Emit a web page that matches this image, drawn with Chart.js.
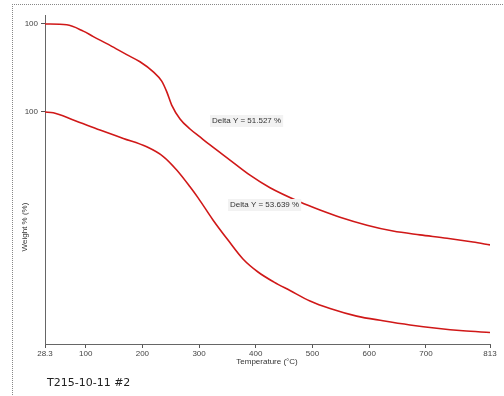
<!DOCTYPE html>
<html>
<head>
<meta charset="utf-8">
<script src="https://cdn.jsdelivr.net/npm/chart.js@4"></script>
<style>
  html, body { margin: 0; padding: 0; background: #fff; }
  #wrap { position: relative; width: 504px; height: 396px; }
  #frame { position: absolute; left: 12px; top: 4px; width: 500px; height: 400px;
           border-left: 1px dotted #888; border-top: 1px dotted #888; }
  canvas { position: absolute; left: 0; top: 0; }
</style>
</head>
<body>
<div id="wrap">
  <div id="frame"></div>
  <canvas id="tga" width="504" height="396"></canvas>
</div>
<script>
// temperature (°C) and weight (%)
const tempA = [28.3, 66.6, 95.8, 113.5, 143, 172.4, 195.8, 219.3, 234.1, 242.9, 251.7, 266.4, 284, 301.6, 319.3, 354.5, 389.8, 425.1, 478, 513.2, 548.5, 596.1, 641.9, 689.5, 737.2, 783, 813];
const weightA = [100, 99.8, 98.3, 97.0, 94.9, 92.7, 91.0, 88.6, 86.4, 83.9, 80.7, 77.4, 75.0, 73.1, 71.2, 67.6, 64.0, 61.0, 57.6, 55.7, 54.0, 52.1, 50.7, 49.8, 49.0, 48.1, 47.4];
const tempB = [28.3, 42.9, 78.2, 125.3, 166.4, 207.6, 236.9, 260.5, 284, 298.6, 324.5, 351.0, 377.4, 403.9, 432.1, 460.3, 495.6, 530.9, 577.9, 624.3, 671.9, 719, 765.4, 813];
const weightB = [100, 99.8, 98.1, 95.7, 93.7, 91.7, 89.4, 86.2, 82.2, 79.5, 74.3, 69.5, 65.0, 61.9, 59.5, 57.5, 55.0, 53.2, 51.4, 50.3, 49.3, 48.5, 47.9, 47.5];
const offsetB = 20.95; // second curve is shifted down on the plot
const xTicks = [28.3, 100, 200, 300, 400, 500, 600, 700, 813];
const yTicks = [100, 100 - offsetB];
const deltaLabels = ["Delta Y = 51.527 %", "Delta Y = 53.639 %"];

const red = "#d01818";
const tickFont = { family: "Liberation Sans", size: 8 };

function toPoints(xs, ys, off) {
  return xs.map((x, i) => ({ x: x, y: ys[i] - off }));
}

const extras = {
  id: "extras",
  afterDraw(chart) {
    const ctx = chart.ctx;
    ctx.save();
    ctx.font = "8px 'Liberation Sans'";
    ctx.fillStyle = "#333";
    ctx.textBaseline = "middle";
    // x title
    ctx.textAlign = "center";
    ctx.fillText("Temperature (°C)", 267, 362);
    // y title
    ctx.save();
    ctx.translate(25, 227);
    ctx.rotate(-Math.PI / 2);
    ctx.fillText("Weight % (%)", 0, 0);
    ctx.restore();
    // delta annotations
    const pos = [[212, 121], [230, 205]];
    deltaLabels.forEach((t, i) => {
      const w = ctx.measureText(t).width;
      ctx.fillStyle = "#f2f2f2";
      ctx.fillRect(pos[i][0] - 2, pos[i][1] - 6, w + 4, 12);
      ctx.fillStyle = "#333";
      ctx.textAlign = "left";
      ctx.fillText(t, pos[i][0], pos[i][1]);
    });
    // sample name
    ctx.font = "11px 'DejaVu Sans'";
    ctx.fillStyle = "#222";
    ctx.fillText("T215-10-11 #2", 47, 383);
    ctx.restore();
  },
};

new Chart(document.getElementById("tga"), {
  type: "line",
  data: {
    datasets: [
      { data: toPoints(tempA, weightA, 0), borderColor: red, borderWidth: 1.6, pointRadius: 0, cubicInterpolationMode: "monotone" },
      { data: toPoints(tempB, weightB, offsetB), borderColor: red, borderWidth: 1.6, pointRadius: 0, cubicInterpolationMode: "monotone" },
    ],
  },
  options: {
    responsive: false,
    animation: false,
    layout: { padding: { top: 15, right: 14, left: 0, bottom: 0 } },
    plugins: { legend: { display: false }, tooltip: { enabled: false } },
    scales: {
      x: {
        type: "linear",
        min: 28.3,
        max: 813,
        afterBuildTicks: (s) => { s.ticks = xTicks.map((v) => ({ value: v })); },
        afterFit: (s) => { s.height = 52; },
        ticks: { font: tickFont, color: "#444", padding: 1, maxRotation: 0, autoSkip: false,
                 callback: (v) => String(v) },
        grid: { drawOnChartArea: false, tickLength: 4, color: "#555" },
        border: { color: "#666", width: 1 },
      },
      y: {
        type: "linear",
        min: 102.14 - 78.33,
        max: 102.14,
        afterBuildTicks: (s) => { s.ticks = yTicks.map((v) => ({ value: v })); },
        afterFit: (s) => { s.width = 45; },
        ticks: { font: tickFont, color: "#444", padding: 3, callback: () => "100" },
        grid: { drawOnChartArea: false, tickLength: 4, color: "#555" },
        border: { color: "#666", width: 1 },
      },
    },
  },
  plugins: [extras],
});
</script>
</body>
</html>
